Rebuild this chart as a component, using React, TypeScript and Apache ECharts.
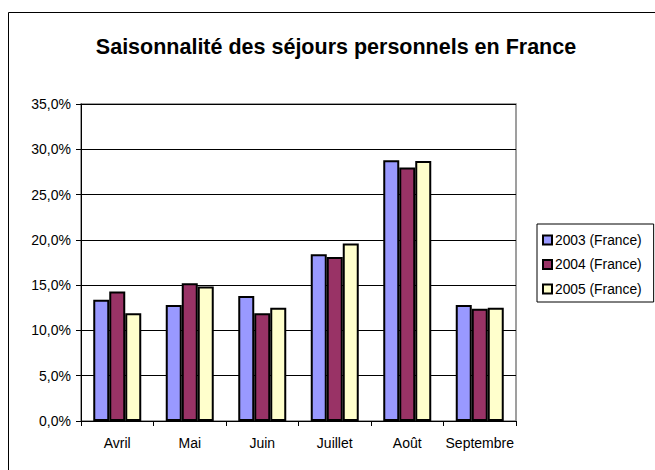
import React, { useEffect, useRef } from "react";
import * as echarts from "echarts";

const categories = ["Avril", "Mai", "Juin", "Juillet", "Août", "Septembre"];
const seriesNames = ["2003 (France)", "2004 (France)", "2005 (France)"];
const values2003 = [13.4, 12.8, 13.8, 18.4, 28.8, 12.8];
const values2004 = [14.3, 15.2, 11.9, 18.1, 28.0, 12.4];
const values2005 = [11.9, 14.85, 12.5, 19.6, 28.7, 12.5];
const colors = ["#9999FF", "#993366", "#FFFFCC"];
const title = "Saisonnalité des séjours personnels en France";

const FONT = "'Liberation Sans', Arial, sans-serif";

export default function App() {
  const ref = useRef<HTMLDivElement>(null);
  useEffect(() => {
    if (!ref.current) return;
    const chart = echarts.init(ref.current, null, { renderer: "svg" });
    const data = [values2003, values2004, values2005];
    chart.setOption({
      animation: false,
      backgroundColor: "#ffffff",
      textStyle: { fontFamily: FONT },
      title: {
        text: title,
        left: 331,
        top: 31,
        textAlign: "center",
        textStyle: { fontFamily: FONT, fontSize: 21.5, fontWeight: "bold", color: "#000" },
      },
      graphic: [
        {
          type: "rect",
          shape: { x: 8.5, y: 12.5, width: 700, height: 500 },
          style: { fill: "none", stroke: "#000", lineWidth: 1 },
          silent: true,
        },
      ],
      legend: {
        orient: "vertical",
        left: 537,
        top: 224,
        padding: [9, 12, 6, 5],
        itemGap: 10.5,
        itemWidth: 9,
        itemHeight: 9,
        icon: "rect",
        borderColor: "#000",
        borderWidth: 1,
        textStyle: { fontFamily: FONT, fontSize: 13.8, color: "#000", padding: [0, 0, 0, -2] },
        data: seriesNames,
      },
      grid: {
        left: 81,
        top: 104,
        width: 435,
        height: 317,
        show: true,
        borderColor: "#808080",
        borderWidth: 1.5,
        containLabel: false,
      },
      xAxis: {
        type: "category",
        data: categories,
        boundaryGap: true,
        axisLine: { lineStyle: { color: "#000", width: 1 } },
        axisTick: { show: true, length: 5, lineStyle: { color: "#000" } },
        axisLabel: { interval: 0, fontFamily: FONT, fontSize: 14, color: "#000", margin: 15 },
      },
      yAxis: {
        type: "value",
        min: 0,
        max: 35,
        interval: 5,
        axisLine: { show: true, lineStyle: { color: "#000", width: 1 } },
        axisTick: { show: true, length: 5, lineStyle: { color: "#000" } },
        axisLabel: {
          fontFamily: FONT,
          fontSize: 14,
          color: "#000",
          margin: 10,
          formatter: (v: number) => v.toFixed(1).replace(".", ",") + "%",
        },
        splitLine: { show: true, lineStyle: { color: "#000", width: 1 } },
      },
      series: seriesNames.map((name, i) => ({
        name,
        type: "bar",
        data: data[i],
        barWidth: 16,
        barGap: "0%",
        itemStyle: { color: colors[i], borderColor: "#000", borderWidth: 2 },
      })),
    });
    return () => chart.dispose();
  }, []);
  return (
    <div
      ref={ref}
      style={{ position: "absolute", left: 0, top: 0, width: 655, height: 470 }}
    />
  );
}
